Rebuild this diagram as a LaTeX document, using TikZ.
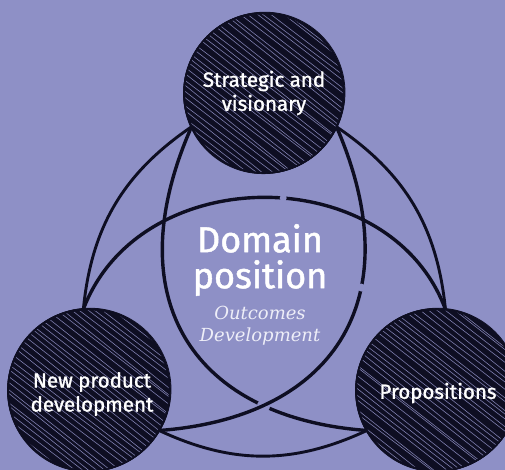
\documentclass[tikz,border=0pt]{standalone}
\usepackage{fontspec}
\setsansfont{Fira Sans}
\newfontfamily\medsans[FakeBold=1.3]{Fira Sans}
\newfontfamily\itserif{DejaVu Serif}
\definecolor{bg}{HTML}{8E90C6}
\definecolor{ink}{HTML}{0E0E22}
\definecolor{hatchc}{HTML}{9090C4}
\definecolor{subc}{HTML}{EEEEF8}
\pgfmathsetseed{7}
\newcommand\hatchball[2]{%
  \begin{scope}
    \clip (#1) circle (#2);
    \begin{scope}[shift={(#1)}, rotate=-38]
      \foreach \k in {-112,-107,...,112} {
        \draw[hatchline] ({-120+20*rnd},{\k+2*rand}) -- ({120-20*rnd},{\k+2.5*rand});
      }
    \end{scope}
  \end{scope}
  \draw[ink, line width=0.8pt] ($(#1)+(0.8,-0.6)$) circle (#2+1.2);
  \draw[ink, line width=0.7pt] ($(#1)+(-0.7,0.9)$) circle (#2+0.8);}
\usetikzlibrary{calc}
\begin{document}
\begin{tikzpicture}[x=1pt, y=-1pt, line cap=round,
  ball/.style={circle, fill=ink, draw=ink, line width=1.6pt, inner sep=0pt, outer sep=0pt},
  hatchline/.style={hatchc, line width=0.6pt, opacity=0.85},
  outerlink/.style={ink, line width=2.9pt},
  innerlink/.style={ink, line width=3.4pt},
  lbl/.style={text=white, font=\medsans\fontsize{20.5}{24}\selectfont, align=center, inner sep=0pt},
  titletext/.style={text=white, font=\medsans\fontsize{36}{36}\selectfont, align=center, inner sep=0pt},
  subtext/.style={text=subc, font=\itserif\itshape\fontsize{18}{22}\selectfont, align=center, inner sep=0pt}]
\fill[bg] (0,0) rectangle (505,470);
\useasboundingbox (0,0) rectangle (505,470);
% circle positions (shapes only)
\path (264,93) node[ball, minimum size=160pt] (T) {};
\path (89,390) node[ball, minimum size=162pt] (L) {};
\path (437,390) node[ball, minimum size=162pt] (R) {};
% links
\draw[outerlink] (T.205) to[bend right=25] (L.94);
\draw[outerlink] (T.335) to[bend left=25] (R.84);
\draw[outerlink] (L.330) to[bend right=25] (R.210);
\draw[innerlink] (L.94) .. controls (140,160) and (390,160) .. (R.84) coordinate[pos=0.54] (hgap);
\fill[bg] (hgap) circle (3.5);
\draw[innerlink] (T.205) .. controls (114,303) and (197,418) .. (R.210) coordinate[pos=0.768] (bx);
\fill[bg] (bx) circle (6.5);
\draw[innerlink] (T.335) .. controls (413,303) and (330,418) .. (L.330) coordinate[pos=0.35] (cgap);
\fill[bg] (cgap) circle (4);
% circles redrawn on top
\node[ball, minimum size=160pt] at (T) {};
\node[ball, minimum size=162pt] at (L) {};
\node[ball, minimum size=162pt] at (R) {};
\hatchball{T.center}{79}
\hatchball{L.center}{80}
\hatchball{R.center}{80}
% labels
\node[lbl] (Tl) at (264,93) {Strategic and\\visionary};
\node[lbl] (Ll) at (92,394) {New product\\development};
\node[lbl] (Rl) at (438,393) {Propositions};
\node[titletext] (Dp) at (260,260) {Domain\\position};
\node[subtext] (Od) at (260,326) {Outcomes\\Development};
\end{tikzpicture}
\end{document}
